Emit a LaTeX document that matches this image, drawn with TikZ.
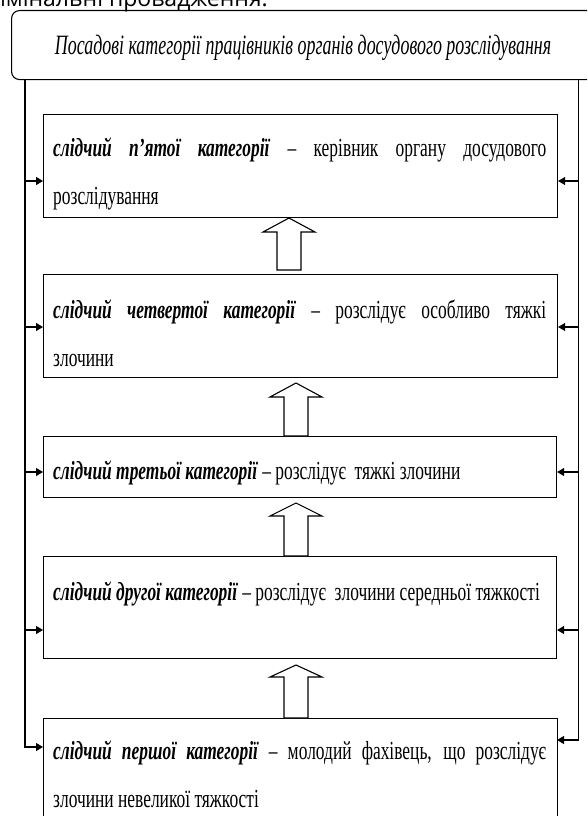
\documentclass[tikz,border=0pt]{standalone}
\usepackage{fontspec}
\setmainfont{Liberation Serif}[FakeStretch=0.67]
\newfontfamily\titlefont{Liberation Serif}[FakeStretch=0.64]
\newfontfamily\topfont{Open Sans}
\usetikzlibrary{arrows.meta,calc}
\begin{document}
\begin{tikzpicture}[x=1pt,y=-1pt,
  box/.style={draw, line width=1.1pt, rectangle, anchor=north west, inner sep=0pt},
  txt/.style={anchor=base west, text width=493pt, align=justify, inner sep=0pt,
              font=\fontsize{26}{48}\selectfont},
  txtl/.style={anchor=base west, inner sep=0pt, font=\fontsize{26}{48}\selectfont},
  feed/.style={line width=1.1pt, -{Triangle[length=7pt,width=8pt]}},
  blk/.style={draw, line width=1.1pt, fill=white, line join=miter}]
\useasboundingbox (0,0) rectangle (587,816);
\clip (0,0) rectangle (587,816);
\newcommand\uparr[4]{\draw[blk] (#1,#2) -- (#1+26,#3) -- (#1+12,#3) -- (#1+12,#4)
   -- (#1-12,#4) -- (#1-12,#3) -- (#1-26,#3) -- cycle;}

% clipped text of the page above
\node[font=\topfont\fontsize{23}{26}\selectfont, anchor=base east, inner sep=0pt] (above) at (268,7) {кримінальні провадження.};

% title
\node[draw, line width=1.1pt, rounded corners=8pt, anchor=north west,
      minimum width=600pt, minimum height=69pt, inner sep=0pt] (title) at (11,10) {};
\node[font=\titlefont\fontsize{28}{30}\selectfont\itshape, anchor=base, inner sep=0pt] (ttl) at (303,55)
  {Посадові категорії працівників органів досудового розслідування};

% boxes
\node[box, minimum width=514pt, minimum height=103pt] (b1) at (43,114) {};
\node[box, minimum width=514pt, minimum height=103pt] (b2) at (43,274) {};
\node[box, minimum width=513pt, minimum height=61pt] (b3) at (43,436) {};
\node[box, minimum width=513pt, minimum height=102pt] (b4) at (43,556) {};
\node[box, minimum width=514pt, minimum height=130pt] (b5) at (43,718) {};

% texts
\node[txt] (t1) at (53,156) {\textbf{\textit{слідчий п’ятої категорії}} – керівник органу досудового\linebreak розслідування};
\node[txt] (t2) at (53,318) {\textbf{\textit{слідчий четвертої категорії}} – розслідує особливо тяжкі\linebreak злочини};
\node[txtl] (t3) at (53,479) {\textbf{\textit{слідчий третьої категорії}}\,– розслідує~ тяжкі злочини};
\node[txtl] (t4) at (53,600) {\textbf{\textit{слідчий другої категорії}}\,– розслідує~ злочини середньої тяжкості};
\node[txt] (t5) at (53,759) {\textbf{\textit{слідчий першої категорії}} – молодий фахівець, що розслідує\linebreak злочини невеликої тяжкості};

% block arrows between boxes
\uparr{289}{218}{232}{270}
\uparr{296}{383}{397}{436}
\uparr{296}{503}{516}{556}
\uparr{296}{665}{677}{718}

% side feed lines
\coordinate (Ltop) at (25,79);
\coordinate (Rtop) at (578.7,79);
\coordinate (b5L) at (43,747);
\coordinate (b5R) at (557,740);
\draw[feed] (Ltop) |- (b5L);
\draw[feed] (Rtop) |- (b5R);
\foreach \yy/\bx in {181/b1,327/b2,472/b3,630/b4}{
  \draw[feed] (25,\yy) -- (\bx.west |- 0,\yy);
  \draw[feed] (578.7,\yy) -- (\bx.east |- 0,\yy);
}
\end{tikzpicture}
\end{document}
